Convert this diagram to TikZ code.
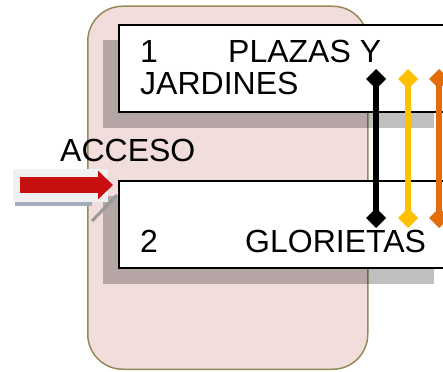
\documentclass[tikz,border=0pt]{standalone}
\usepackage{fontspec}
\setmainfont{Liberation Sans}
\usepackage{xcolor}
\usepackage{tikz}
\usetikzlibrary{positioning, arrows.meta}

\definecolor{rosa}{RGB}{242,221,221}
\definecolor{oliva}{RGB}{150,138,88}
\definecolor{rojo}{RGB}{200,16,16}
\definecolor{amarillo}{RGB}{255,192,0}
\definecolor{naranja}{RGB}{228,108,10}
\definecolor{brillo}{RGB}{240,240,240}
\definecolor{azulgris}{RGB}{165,172,190}

\begin{document}
\begin{tikzpicture}[x=1pt, y=1pt,
    caja/.style={draw, line width=2pt, fill=white, minimum width=332pt, minimum height=87pt, inner sep=0pt, anchor=north west},
    sombra/.style={fill=black, fill opacity=0.25, minimum width=331pt, minimum height=88pt, inner sep=0pt, anchor=north west},
    texto/.style={anchor=base west, inner sep=0pt, font=\fontsize{32}{34}\selectfont},
    enlace/.style={{Diamond[width=20pt,length=20pt]}-{Diamond[width=20pt,length=20pt]}, line width=5.5pt}]
      \useasboundingbox (0,0) rectangle (443,371);

      \node[draw=oliva, line width=1.5pt, fill=rosa, rounded corners=35pt, minimum width=280pt, minimum height=363pt, inner sep=0pt, anchor=south west] (fondo) at (87,1) {};

      \node[sombra] (s1) at (103,331) {};
      \node[sombra] (s2) at (103,175) {};
      \node[caja] (c1) at (118,347) {};
      \node[caja] (c2) at (118,191) {};

      \node[texto] (n1) at (140,308) {1};
      \node[texto] (t1) at (228,308) {PLAZAS Y};
      \node[texto] (t1b) at (140,276) {JARDINES};
      \node[texto] (n2) at (140,118) {2};
      \node[texto] (t2) at (245,118) {GLORIETAS};

      \coordinate (negro1) at (376,302);
      \coordinate (negro2) at (376,143);
      \coordinate (amarillo1) at (408,302);
      \coordinate (amarillo2) at (408,143);
      \coordinate (naranja1) at (439,302);
      \coordinate (naranja2) at (439,143);
      \draw[enlace, black] (negro1) -- (negro2);
      \draw[enlace, amarillo] (amarillo1) -- (amarillo2);
      \draw[enlace, naranja] (naranja1) -- (naranja2);

      % acceso
      \fill[brillo] (13,169) rectangle (108,202);
      \fill[azulgris] (15,165) rectangle (92,169);
      \draw[gray!80, line width=3pt] (92,150) -- (117,176);
      \coordinate (entrada) at (20,186);
      \coordinate (punta) at (113,186);
      \draw[-{Triangle[length=15pt,width=28pt]}, line width=16pt, rojo] (entrada) -- (punta);
      \node[texto] (acceso) at (60,209) {ACCESO};
    \end{tikzpicture}
\end{document}
